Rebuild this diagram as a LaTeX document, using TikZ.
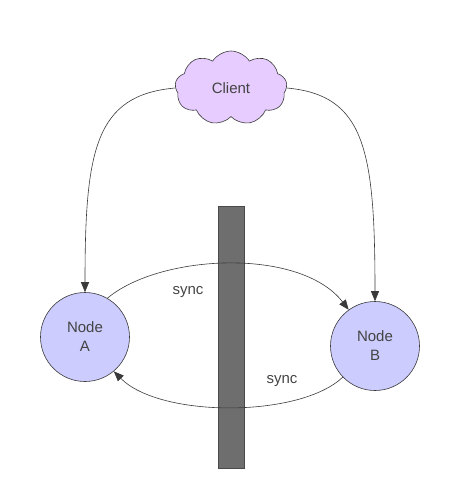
\documentclass[tikz,border=0pt]{standalone}
\usepackage{fontspec}
\setmainfont{Liberation Sans}
\usepackage{tikz}
\usepackage{xcolor}
\usetikzlibrary{
  positioning, arrows.meta, shapes.symbols, calc,
}
\definecolor{cInk}     {HTML}{3A3A3A}
\definecolor{cText}    {HTML}{444444}
\definecolor{cCloud}   {HTML}{E6CCFF}
\definecolor{cNode}    {HTML}{CCCCFF}
\definecolor{cWall}    {HTML}{6E6E6E}
\definecolor{cWallLine}{HTML}{4A4A4A}

\begin{document}
\begin{tikzpicture}[x=1pt, y=1pt,
    peer/.style={circle, draw=cInk, fill=cNode, line width=0.6pt,
                 minimum size=89pt, inner sep=0pt, align=center,
                 text=cText, font=\fontsize{15}{19}\selectfont},
    flow/.style={draw=cInk, line width=0.6pt,
                 -{Triangle[length=10pt, width=8pt]}},
    lbl/.style={text=cText, font=\fontsize{15}{18}\selectfont},
  ]
  \useasboundingbox (0,0) rectangle (456,-498);
  % client
  \node[cloud, cloud puffs=9, cloud puff arc=115, aspect=1.45,
        draw=cInk, fill=cCloud, line width=0.6pt,
        minimum width=112pt, minimum height=74pt, inner sep=0pt,
        text=cText, font=\fontsize{15}{18}\selectfont]
        (client) at (231,-88) {Client};
  % nodes
  \node[peer] (nodeA) at (85,-337) {Node\\A};
  \node[peer] (nodeB) at (375,-346) {Node\\B};
  % partition wall
  \node[draw=cWallLine, fill=cWall, line width=0.6pt, inner sep=0pt,
        minimum width=26pt, minimum height=262pt] (wall) at (231,-337) {};
  % requests
  \draw[flow] (client.west) .. controls (95,-95) and (85,-150) .. (nodeA.north);
  \draw[flow] (client.east) .. controls (365,-95) and (375,-150) .. (nodeB.north);
  % sync
  \draw[flow] (nodeA.60) .. controls (160,-254) and (300,-247) .. (nodeB.126);
  \draw[flow] (nodeB.224) .. controls (300,-418) and (160,-418) .. (nodeA.310);
  \node[lbl] (syncAB) at (188,-292) {sync};
  \node[lbl] (syncBA) at (282,-381) {sync};
\end{tikzpicture}
\end{document}
